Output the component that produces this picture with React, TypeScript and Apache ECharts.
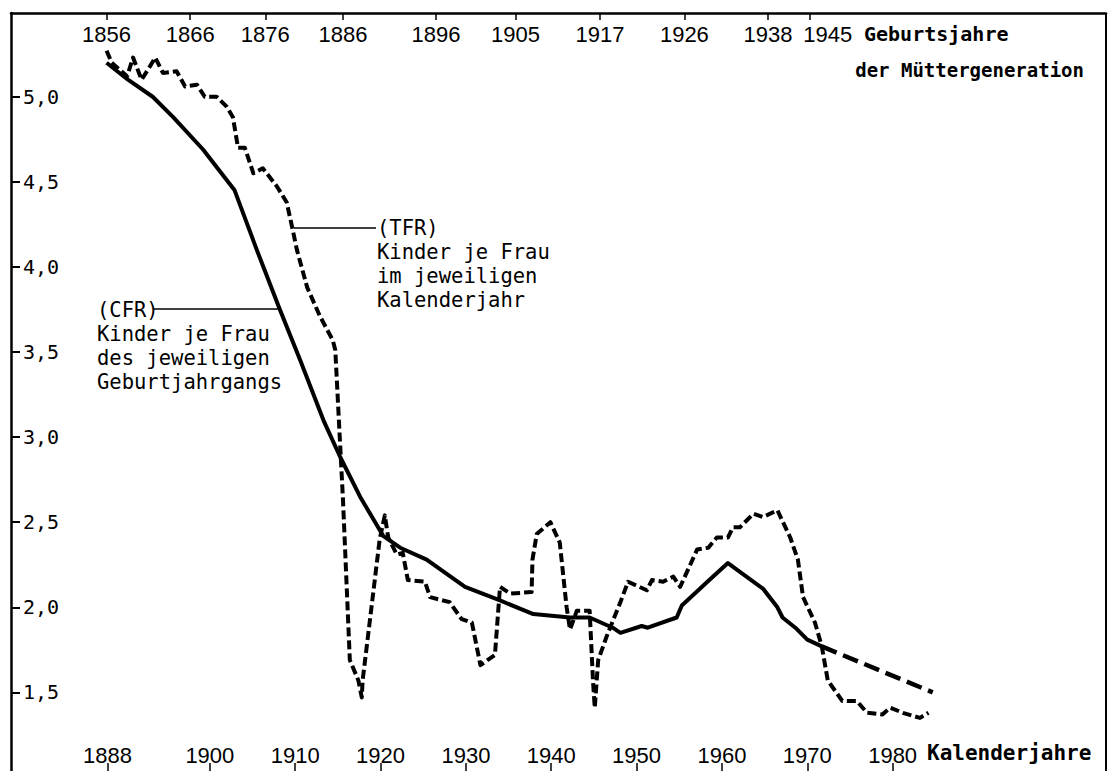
import React, { useEffect, useRef } from "react";
import * as echarts from "echarts";

// Calendar-year axis (bottom) tick labels
const calendarTicks = [1888, 1900, 1910, 1920, 1930, 1940, 1950, 1960, 1970, 1980];
// Birth years of the mothers' generation (top axis) and the calendar year each tick sits at
const birthYearLabels = [1856, 1866, 1876, 1886, 1896, 1905, 1917, 1926, 1938, 1945];
const birthYearAt = [1887.9, 1897.7, 1906.5, 1915.6, 1926.5, 1935.8, 1945.7, 1955.6, 1965.4, 1970.3];
// where each top label is printed (the last one is pushed right of its tick, as in the original)
const birthLabelAt = [1887.9, 1897.7, 1906.5, 1915.6, 1926.5, 1935.8, 1945.7, 1955.6, 1965.4, 1972.4];
// Children per woman ticks
const valueTicks = [1.5, 2.0, 2.5, 3.0, 3.5, 4.0, 4.5, 5.0];

// CFR: completed fertility of the respective birth cohort (plotted at calendar year)
const cfrYears = [1887.9, 1890.4, 1893.3, 1895.7, 1899.2, 1902.9, 1905.5, 1908.2, 1910.6, 1913.3, 1915.3, 1917.6, 1920.3, 1922.3, 1925.4, 1929.9, 1934.0, 1937.9, 1942.2, 1944.5, 1947.2, 1948.1, 1950.6, 1951.3, 1954.7, 1955.3, 1958.3, 1960.7, 1964.8, 1966.5, 1967.1, 1968.6, 1970.0, 1971.7];
const cfrValues = [5.20, 5.10, 5.00, 4.88, 4.69, 4.45, 4.10, 3.75, 3.45, 3.10, 2.88, 2.65, 2.42, 2.35, 2.28, 2.12, 2.04, 1.96, 1.94, 1.94, 1.88, 1.85, 1.89, 1.88, 1.94, 2.01, 2.15, 2.26, 2.11, 2.00, 1.94, 1.88, 1.81, 1.77];
// CFR projection (long dashes)
const cfrProjYears = [1971.7, 1984.7];
const cfrProjValues = [1.77, 1.50];

// TFR: children per woman in the respective calendar year
const tfrYears = [1887.9, 1888.5, 1890.3, 1891.0, 1892.0, 1893.0, 1893.6, 1894.5, 1896.1, 1897.1, 1898.5, 1899.4, 1900.8, 1902.0, 1902.7, 1903.3, 1904.1, 1905.1, 1906.2, 1907.9, 1909.0, 1909.7, 1910.2, 1911.4, 1912.9, 1914.4, 1914.7, 1915.3, 1915.6, 1916.4, 1917.4, 1917.8, 1917.9, 1919.9, 1920.5, 1920.9, 1921.9, 1922.6, 1923.2, 1925.2, 1925.8, 1928.1, 1929.5, 1930.7, 1931.7, 1933.4, 1934.0, 1935.2, 1937.7, 1937.8, 1938.3, 1939.9, 1941.0, 1941.8, 1942.2, 1943.0, 1944.5, 1944.9, 1945.1, 1945.5, 1946.5, 1948.1, 1949.0, 1951.2, 1951.8, 1953.1, 1954.3, 1955.1, 1957.1, 1958.4, 1959.4, 1960.7, 1961.3, 1962.1, 1963.7, 1964.8, 1966.5, 1968.0, 1968.9, 1969.5, 1970.9, 1971.7, 1972.4, 1974.1, 1975.8, 1977.0, 1978.8, 1979.7, 1981.2, 1983.2, 1984.2];
const tfrValues = [5.27, 5.20, 5.12, 5.23, 5.10, 5.18, 5.23, 5.14, 5.15, 5.06, 5.07, 5.00, 5.00, 4.94, 4.88, 4.70, 4.70, 4.55, 4.58, 4.47, 4.38, 4.22, 4.10, 3.88, 3.71, 3.57, 3.51, 2.92, 2.63, 1.69, 1.57, 1.47, 1.57, 2.40, 2.54, 2.41, 2.31, 2.32, 2.16, 2.15, 2.06, 2.03, 1.93, 1.91, 1.66, 1.72, 2.12, 2.08, 2.09, 2.28, 2.43, 2.50, 2.38, 2.00, 1.87, 1.98, 1.98, 1.56, 1.41, 1.69, 1.83, 2.03, 2.15, 2.10, 2.16, 2.15, 2.18, 2.12, 2.34, 2.35, 2.41, 2.41, 2.47, 2.47, 2.55, 2.53, 2.57, 2.41, 2.28, 2.06, 1.91, 1.77, 1.57, 1.45, 1.45, 1.38, 1.37, 1.41, 1.38, 1.35, 1.38];

const X_MIN = 1876.7;
const X_MAX = 2005.0;
const Y_MIN = 1.038;
const Y_MAX = 5.492;

const MONO = "'DejaVu Sans Mono', monospace";
const SANS = "'Liberation Sans', Arial, sans-serif";

const zip = (xs: number[], ys: number[]) => xs.map((x, i) => [x, ys[i]]);

export default function App() {
  const ref = useRef<HTMLDivElement>(null);

  useEffect(() => {
    if (!ref.current) return;
    const chart = echarts.init(ref.current, undefined, { renderer: "svg" });
    const option: any = {
      animation: false,
      backgroundColor: "#ffffff",
      grid: {
        left: 11,
        right: 6,
        top: 13,
        bottom: 0,
        containLabel: false,
        outerBoundsMode: "none",
      },
      xAxis: [
        {
          type: "value",
          position: "bottom",
          min: X_MIN,
          max: X_MAX,
          axisLine: { show: false },
          splitLine: { show: false },
          axisTick: {
            show: true,
            inside: true,
            length: 8,
            customValues: calendarTicks,
            lineStyle: { color: "#000", width: 1.5 },
          },
          axisLabel: {
            inside: true,
            margin: 5,
            hideOverlap: false,
            customValues: calendarTicks,
            formatter: (v: number) => String(Math.round(v)),
            color: "#000",
            fontFamily: SANS,
            fontSize: 22,
          },
        },
        {
          type: "value",
          position: "top",
          min: X_MIN,
          max: X_MAX,
          axisLine: { show: true, lineStyle: { color: "#000", width: 2.5 } },
          splitLine: { show: false },
          axisTick: {
            show: true,
            inside: true,
            length: 7,
            customValues: birthYearAt,
            lineStyle: { color: "#000", width: 1.5 },
          },
          axisLabel: {
            inside: true,
            margin: 10,
            hideOverlap: false,
            showMinLabel: true,
            showMaxLabel: true,
            customValues: birthLabelAt,
            formatter: (v: number) => {
              const i = birthLabelAt.findIndex((p) => Math.abs(p - v) < 0.05);
              return i >= 0 ? String(birthYearLabels[i]) : "";
            },
            color: "#000",
            fontFamily: SANS,
            fontSize: 22,
          },
        },
      ],
      yAxis: {
        type: "value",
        min: Y_MIN,
        max: Y_MAX,
        axisLine: { show: true, lineStyle: { color: "#000", width: 2.5 } },
        splitLine: { show: false },
        axisTick: {
          show: true,
          inside: true,
          length: 9,
          customValues: valueTicks,
          lineStyle: { color: "#000", width: 2 },
        },
        axisLabel: {
          inside: true,
          margin: 12,
          hideOverlap: false,
          customValues: valueTicks,
          formatter: (v: number) => v.toFixed(1).replace(".", ","),
          color: "#000",
          fontFamily: MONO,
          fontSize: 20,
        },
      },
      series: [
        {
          name: "TFR",
          type: "line",
          xAxisIndex: 0,
          data: zip(tfrYears, tfrValues),
          showSymbol: false,
          lineStyle: { color: "#000", width: 4, type: [9, 4], join: "round" },
        },
        {
          name: "CFR",
          type: "line",
          xAxisIndex: 0,
          data: zip(cfrYears, cfrValues),
          showSymbol: false,
          lineStyle: { color: "#000", width: 4, type: "solid", join: "round" },
        },
        {
          name: "CFR Prognose",
          type: "line",
          xAxisIndex: 0,
          data: zip(cfrProjYears, cfrProjValues),
          showSymbol: false,
          lineStyle: { color: "#000", width: 4.5, type: [16, 7] },
        },
      ],
      graphic: [
        {
          type: "line",
          shape: { x1: 1106, y1: 13, x2: 1106, y2: 771 },
          style: { stroke: "#000", lineWidth: 2 },
        },
        {
          type: "line",
          shape: { x1: 153, y1: 309, x2: 279, y2: 309 },
          style: { stroke: "#000", lineWidth: 1.5 },
        },
        {
          type: "line",
          shape: { x1: 294, y1: 228, x2: 376, y2: 228 },
          style: { stroke: "#000", lineWidth: 1.5 },
        },
        {
          type: "text",
          x: 97,
          y: 298,
          style: {
            text: "(CFR)\nKinder je Frau\ndes jeweiligen\nGeburtjahrgangs",
            fill: "#000",
            font: `20.5px ${MONO}`,
            lineHeight: 24,
            verticalAlign: "top",
            align: "left",
          },
        },
        {
          type: "text",
          x: 377,
          y: 216,
          style: {
            text: "(TFR)\nKinder je Frau\nim jeweiligen\nKalenderjahr",
            fill: "#000",
            font: `20.5px ${MONO}`,
            lineHeight: 24,
            verticalAlign: "top",
            align: "left",
          },
        },
        {
          type: "text",
          x: 864,
          y: 34,
          style: {
            text: "Geburtsjahre",
            fill: "#000",
            font: `bold 20px ${MONO}`,
            verticalAlign: "middle",
            align: "left",
          },
        },
        {
          type: "text",
          x: 1084,
          y: 70,
          style: {
            text: "der Müttergeneration",
            fill: "#000",
            font: `bold 19px ${MONO}`,
            verticalAlign: "middle",
            align: "right",
          },
        },
        {
          type: "text",
          x: 927,
          y: 753,
          style: {
            text: "Kalenderjahre",
            fill: "#000",
            font: `bold 21px ${MONO}`,
            verticalAlign: "middle",
            align: "left",
          },
        },
      ],
    };
    chart.setOption(option);
    return () => {
      chart.dispose();
    };
  }, []);

  return (
    <div
      ref={ref}
      style={{ position: "absolute", left: 0, top: 0, width: 1112, height: 771, background: "#fff" }}
    />
  );
}
